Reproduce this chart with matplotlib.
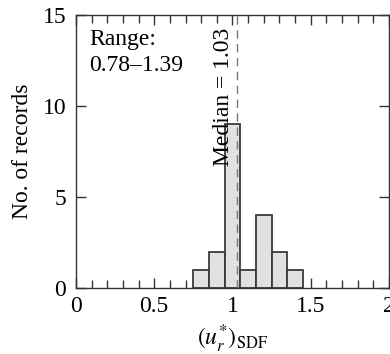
import numpy as np
import matplotlib
matplotlib.use("Agg")
import matplotlib.pyplot as plt

plt.rcParams['font.family'] = ['Liberation Serif', 'DejaVu Serif']
plt.rcParams['mathtext.fontset'] = 'stix'

# histogram data
# --------------
bin_edges = [0.75, 0.85, 0.95, 1.05, 1.15, 1.25, 1.35, 1.45]
counts = [1, 2, 9, 1, 4, 2, 1]
median = 1.03
range_lo, range_hi = 0.78, 1.39

fig = plt.figure(figsize=(3.9, 3.54), dpi=100)
ax = fig.add_axes([0.195, 0.186, 0.802, 0.772])

lefts = np.array(bin_edges[:-1])
widths = np.diff(bin_edges)
ax.bar(lefts, counts, width=widths, align='edge', color='#e0e1e3',
       edgecolor='#3a3a3a', linewidth=1.3, zorder=2)

ax.axvline(median, color='#777777', linestyle=(0, (6, 4)), linewidth=1.0, zorder=3)
ax.text(median - 0.02, 14.3, "Median = {:.2f}".format(median), rotation=90,
        ha='right', va='top', fontsize=17, zorder=4)
ax.text(0.085, 14.2, "Range:\n{:.2f}\u2013{:.2f}".format(range_lo, range_hi),
        ha='left', va='top', fontsize=17, linespacing=1.3)

ax.set_xlim(0, 2)
ax.set_ylim(0, 15)
ax.set_xticks([0, 0.5, 1, 1.5, 2])
ax.set_xticklabels(["0", "0.5", "1", "1.5", "2"])
ax.set_xticks(np.arange(0, 2.01, 0.1), minor=True)
ax.set_yticks([0, 5, 10, 15])
ax.tick_params(axis='both', which='both', direction='in', top=True, right=True,
               labelsize=17, width=1.0, color='#333333')
ax.tick_params(which='major', length=7)
ax.tick_params(which='minor', length=6)
ax.tick_params(axis='x', pad=6)
ax.tick_params(axis='y', pad=7)

for s in ax.spines.values():
    s.set_linewidth(1.0)
    s.set_color('#333333')

ax.set_xlabel(r"$(u_r^{*})_{\mathrm{SDF}}$", fontsize=17, labelpad=4)
ax.set_ylabel("No. of records", fontsize=17, labelpad=7)

fig.savefig("out.png", dpi=100)
